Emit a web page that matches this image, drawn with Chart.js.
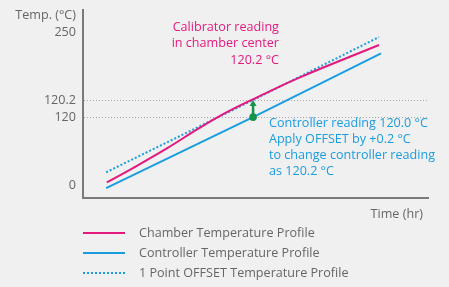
<!DOCTYPE html>
<html>
<head>
<meta charset="utf-8">
<script src="https://cdn.jsdelivr.net/npm/chart.js@4"></script>
<style>
html, body { margin: 0; padding: 0; background: #f0f0f0; }
</style>
</head>
<body>
<canvas id="chart" width="449" height="287"></canvas>
<script>
// schematic chart: y is in "drawing units", tick labels say what they mean
const seriesNames = ['Chamber Temperature Profile', 'Controller Temperature Profile', '1 Point OFFSET Temperature Profile'];
const chamberTime = [6.9, 14.6, 24.3, 33.9, 41.7, 49.4, 62.9, 85.8];
const chamberTemp = [4.4, 28.3, 60, 93.8, 119.1, 140.5, 176, 228.8];
const controllerTime = [6.7, 49.3, 86.4];
const controllerTemp = [-5, 111, 215];
const offsetTime = [6.7, 49.3, 85.8];
const offsetTemp = [21, 139, 241.8];
const yTickValues = [0, 111, 139, 250];
const yTickLabels = ['0', '120', '120.2', '250'];
const dottedLevels = [111, 139];
const offsetAt = 49.3; // where the OFFSET arrow is drawn

const calibText = ['Calibrator reading', 'in chamber center', '120.2 °C'];
const controllerText = ['Controller reading 120.0 °C', 'Apply OFFSET by +0.2 °C', 'to change controller reading', 'as 120.2 °C'];

const PINK = '#e3197e';
const BLUE = '#1a9ddf';
const GREEN = '#16924a';
const GREY = '#666666';
const FONT = '"Open Sans", "Noto Sans", sans-serif';
const FSIZE = 12.6;

function toPoints(xs, ys) {
    return xs.map((x, i) => ({ x: x, y: ys[i] }));
}

const annotations = {
    id: 'annotations',
    afterDraw(chart) {
        const ctx = chart.ctx;
        const xs = chart.scales.x;
        const ys = chart.scales.y;
        const area = chart.chartArea;
        ctx.save();
        ctx.font = FSIZE + 'px ' + FONT;
        ctx.textBaseline = 'middle';

        // axis titles
        ctx.fillStyle = GREY;
        ctx.textAlign = 'right';
        ctx.fillText('Temp. (°C)', area.left - 7, area.top + 5);
        ctx.fillText('Time (hr)', area.right - 5, area.bottom + 16);

        // calibrator note
        ctx.fillStyle = PINK;
        ctx.textAlign = 'right';
        calibText.forEach((t, i) => {
            ctx.fillText(t, xs.getPixelForValue(56.8), ys.getPixelForValue(258) + i * 16.5);
        });

        // controller note
        ctx.fillStyle = BLUE;
        ctx.textAlign = 'left';
        controllerText.forEach((t, i) => {
            ctx.fillText(t, xs.getPixelForValue(53.9), ys.getPixelForValue(101.3) + i * 16);
        });

        // offset arrow
        const ax = xs.getPixelForValue(offsetAt);
        const y0 = ys.getPixelForValue(controllerTemp[1]);
        const y1 = ys.getPixelForValue(offsetTemp[1]);
        ctx.strokeStyle = GREEN;
        ctx.fillStyle = GREEN;
        ctx.lineWidth = 2.5;
        ctx.beginPath();
        ctx.moveTo(ax, y0);
        ctx.lineTo(ax, y1 + 4);
        ctx.stroke();
        ctx.beginPath();
        ctx.moveTo(ax, y1);
        ctx.lineTo(ax - 3.5, y1 + 6);
        ctx.lineTo(ax + 3.5, y1 + 6);
        ctx.closePath();
        ctx.fill();
        ctx.beginPath();
        ctx.arc(ax, y0, 3.8, 0, Math.PI * 2);
        ctx.fill();

        // legend, one item per row
        chart.data.datasets.forEach((ds, i) => {
            const ly = area.bottom + 35 + i * 20;
            ctx.strokeStyle = ds.borderColor;
            ctx.lineWidth = 2;
            ctx.setLineDash(ds.borderDash || []);
            ctx.beginPath();
            ctx.moveTo(area.left, ly);
            ctx.lineTo(area.left + 42, ly);
            ctx.stroke();
            ctx.setLineDash([]);
            ctx.fillStyle = GREY;
            ctx.textAlign = 'left';
            ctx.fillText(ds.label, area.left + 56, ly);
        });
        ctx.restore();
    }
};

new Chart(document.getElementById('chart'), {
    type: 'line',
    data: {
        datasets: [
            {
                label: seriesNames[0],
                data: toPoints(chamberTime, chamberTemp),
                borderColor: PINK,
                borderWidth: 2,
                tension: 0.4,
                pointRadius: 0
            },
            {
                label: seriesNames[1],
                data: toPoints(controllerTime, controllerTemp),
                borderColor: BLUE,
                borderWidth: 2,
                pointRadius: 0
            },
            {
                label: seriesNames[2],
                data: toPoints(offsetTime, offsetTemp),
                borderColor: BLUE,
                borderWidth: 2,
                borderDash: [2, 2],
                pointRadius: 0
            }
        ]
    },
    options: {
        responsive: false,
        animation: false,
        layout: { padding: { top: 10, right: 21, bottom: 89, left: 0 } },
        plugins: {
            legend: { display: false },
            tooltip: { enabled: false }
        },
        scales: {
            x: {
                type: 'linear',
                min: 0,
                max: 100,
                afterFit: scale => { scale.height = 0; },
                grid: { display: false },
                border: { color: '#7a7a7a', width: 2 },
                ticks: { display: false }
            },
            y: {
                min: -21,
                max: 286,
                afterFit: scale => {
                    scale.width = 83;
                    scale.paddingTop = 0;
                    scale.paddingBottom = 0;
                },
                afterBuildTicks: scale => {
                    scale.ticks = yTickValues.map(v => ({ value: v }));
                },
                ticks: {
                    padding: 7,
                    color: GREY,
                    font: { family: FONT, size: FSIZE },
                    callback: (v) => yTickLabels[yTickValues.indexOf(v)]
                },
                grid: {
                    drawTicks: false,
                    color: c => (c.tick && dottedLevels.includes(c.tick.value)) ? '#a8a8a8' : 'rgba(0,0,0,0)',
                    lineWidth: 1
                },
                border: { color: '#7a7a7a', width: 2, dash: [1, 2] }
            }
        }
    },
    plugins: [annotations]
});
</script>
</body>
</html>
